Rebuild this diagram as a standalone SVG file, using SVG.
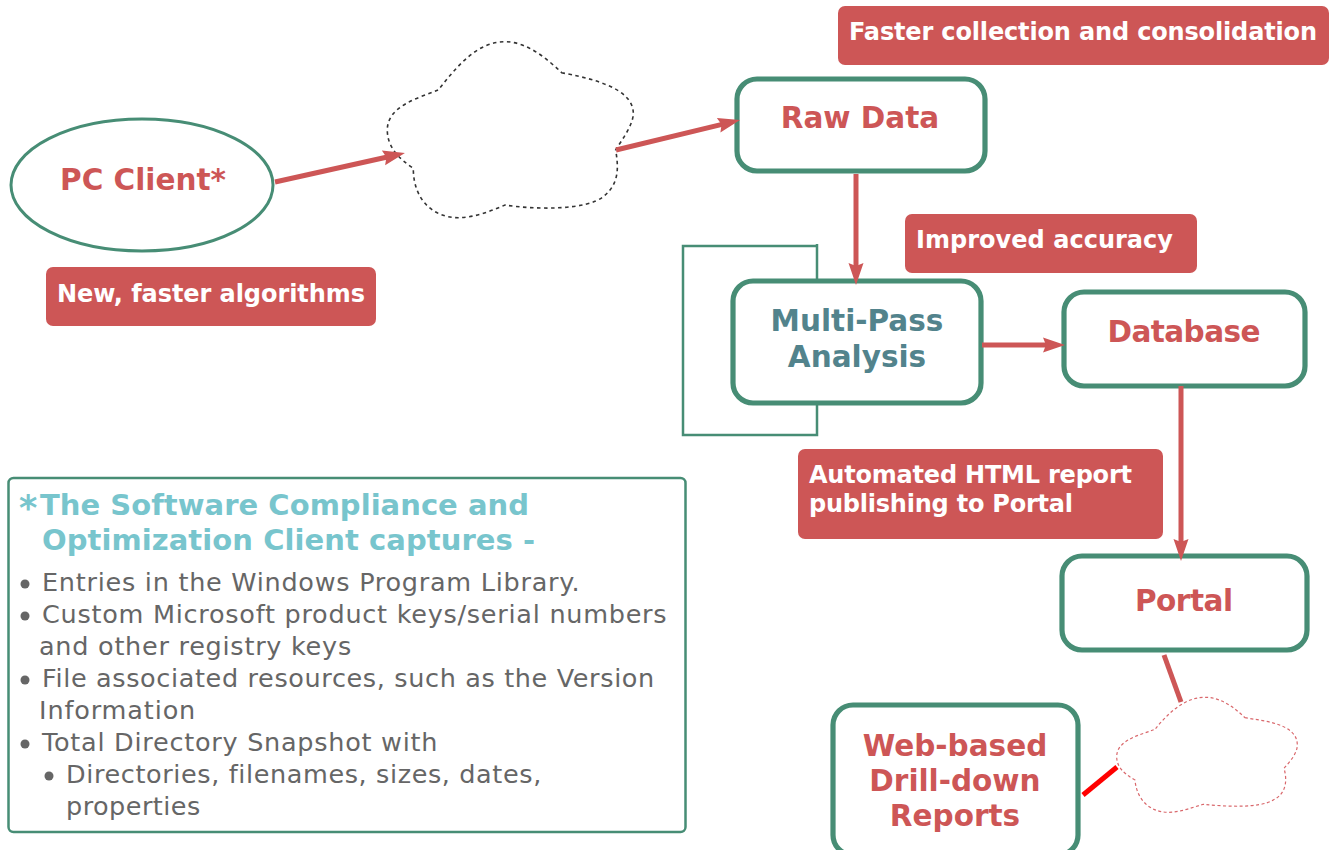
<svg xmlns="http://www.w3.org/2000/svg" width="1334" height="850" viewBox="0 0 1334 850">
<style>
text{font-family:"DejaVu Sans","Liberation Sans",sans-serif}
.box{fill:#fff;stroke:#478d75;stroke-width:5.200}
.n{font-weight:bold;font-size:29.500px;fill:#cd5656;text-anchor:middle}
.tag{fill:#cd5656}
.t{font-weight:bold;font-size:24px;fill:#fff}
.h{font-weight:bold;font-size:29px;fill:#78c5cd}
.b{font-size:25.500px;fill:#666;letter-spacing:.74px}
.c{stroke:#cd5656;stroke-width:5;fill:none}
.d{fill:#666}
</style>
<defs>
<marker id="a" markerUnits="userSpaceOnUse" markerWidth="26" markerHeight="20" refX="14" refY="10" orient="auto"><path d="M2 2.500L24 10L2 17.500L5 10Z" fill="#cd5656"/></marker>
</defs>
<g id="feedback"><path d="M817 244V246H683V435H817V244" fill="none" stroke="#478d75" stroke-width="2.500"/></g>
<g id="cloud1"><path d="M561.700 72.700C586.700 77.700 633.300 86.700 633.300 113.300C633.300 125 621.700 140 615.700 150C618.300 166.700 620 183.300 603.300 196.700C586.700 210 536.700 210 505 205C490 211.700 473.300 217.700 458.300 217.700C433.300 217.700 413.300 200 413.300 168.300C398.300 158.300 387.300 146.700 387.300 130C387.300 106.700 416.700 98.300 438.300 90C456.700 66.700 476.700 41.700 505 41.700C526.700 41.700 546.700 58.300 561.700 72.700Z" fill="#fff" stroke="#333" stroke-width="1.600" stroke-dasharray="3.500 3.500"/></g>
<g id="cloud2"><path d="M1245 717.700C1263.300 721 1297.300 723.300 1297.300 745C1297.300 753.300 1290 761.700 1284 768.300C1287.300 780 1286.700 793.300 1273.300 800C1260 808.300 1226.700 806.700 1203.300 804.300C1191.700 807.700 1180 812.300 1168.300 812.300C1150 812.300 1136.700 800 1135 780C1123.300 773.300 1116.700 766.700 1116.700 756.700C1116.700 740 1140 735 1155 729.300C1166.700 715 1183.300 697.300 1205 697.300C1221.700 697.300 1235 708.300 1245 717.700Z" fill="#fff" stroke="#d9686c" stroke-width="1.200" stroke-dasharray="3 2.500"/></g>
<g id="pc-client"><ellipse cx="142" cy="185" rx="131" ry="66" fill="#fff" stroke="#478d75" stroke-width="3"/><text class="n" x="143" y="190">PC Client*</text></g>
<g id="raw-data"><rect class="box" x="737" y="79" width="248" height="92" rx="20"/><text class="n" x="860" y="128">Raw Data</text></g>
<g id="multi-pass"><rect class="box" x="733" y="281" width="248" height="122" rx="20"/><text class="n" x="857" y="331" style="fill:#52838c">Multi-Pass</text><text class="n" x="857" y="367" style="fill:#52838c">Analysis</text></g>
<g id="database"><rect class="box" x="1064" y="292" width="241" height="94" rx="20"/><text class="n" x="1184" y="342" textLength="153">Database</text></g>
<g id="portal"><rect class="box" x="1062" y="556" width="245" height="94" rx="20"/><text class="n" x="1184" y="611" textLength="98">Portal</text></g>
<g id="reports"><rect class="box" x="833" y="705" width="245" height="150" rx="20"/><text class="n" x="955" y="756">Web-based</text><text class="n" x="955" y="791">Drill-down</text><text class="n" x="955" y="826">Reports</text></g>
<g id="tag-collection"><rect class="tag" x="838" y="6" width="491" height="59" rx="7"/><text class="t" x="849" y="40" textLength="468">Faster collection and consolidation</text></g>
<g id="tag-accuracy"><rect class="tag" x="905" y="214" width="292" height="59" rx="7"/><text class="t" x="916" y="248" textLength="257">Improved accuracy</text></g>
<g id="tag-algorithms"><rect class="tag" x="46" y="267" width="330" height="59" rx="7"/><text class="t" x="57" y="302" textLength="308">New, faster algorithms</text></g>
<g id="tag-html"><rect class="tag" x="798" y="449" width="365" height="90" rx="7"/><text class="t" x="809" y="483" textLength="323">Automated HTML report</text><text class="t" x="809" y="512" textLength="264">publishing to Portal</text></g>
<g id="note">
<rect x="8.500" y="478" width="677" height="354" rx="5" fill="#fff" stroke="#478d75" stroke-width="2.500"/>
<text class="h" x="19" y="520" style="font-size:35px">*</text><text class="h" x="40" y="515" textLength="489">The Software Compliance and</text>
<text class="h" x="42" y="550" textLength="493">Optimization Client captures -</text>
<circle class="d" cx="25" cy="584" r="4.500"/><text class="b" x="42" y="591">Entries in the Windows Program Library.</text>
<circle class="d" cx="25" cy="616" r="4.500"/><text class="b" x="42" y="623">Custom Microsoft product keys/serial numbers</text>
<text class="b" x="39" y="655">and other registry keys</text>
<circle class="d" cx="25" cy="680" r="4.500"/><text class="b" x="42" y="687" textLength="613">File associated resources, such as the Version</text>
<text class="b" x="39" y="719" textLength="157">Information</text>
<circle class="d" cx="25" cy="744" r="4.500"/><text class="b" x="42" y="751">Total Directory Snapshot with</text>
<circle class="d" cx="49" cy="776" r="4.500"/><text class="b" x="66" y="783" textLength="476">Directories, filenames, sizes, dates,</text>
<text class="b" x="66" y="815" textLength="135">properties</text>
</g>
<g id="connectors">
<path class="c" d="M275 182L395.200 155.200" marker-end="url(#a)"/>
<path class="c" d="M616 150L730.300 122.400" marker-end="url(#a)"/>
<path class="c" d="M856 174V275" marker-end="url(#a)"/>
<path class="c" d="M982 345H1055" marker-end="url(#a)"/>
<path class="c" d="M1181 386V551" marker-end="url(#a)"/>
<path class="c" d="M1164 655L1181 702"/>
<path d="M1083 795L1117 767" stroke="#f00" stroke-width="5" fill="none"/>
</g>
</svg>
